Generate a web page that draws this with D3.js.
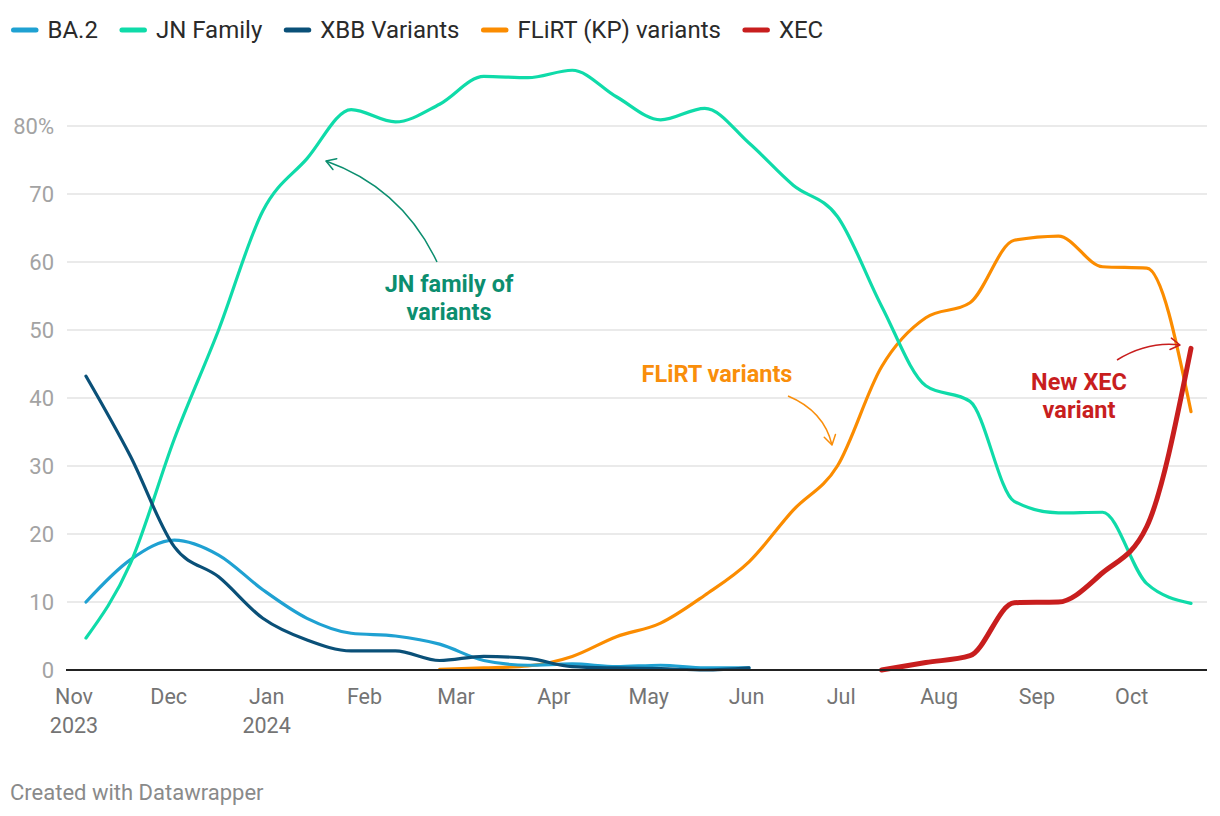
<!DOCTYPE html>
<html><head><meta charset="utf-8">
<script src="https://cdn.jsdelivr.net/npm/d3@7"></script>
<style>body{margin:0;background:#fff;} svg{display:block;font-family:Roboto, "Noto Sans", sans-serif;}</style>
</head><body><svg id="c" width="1220" height="816"></svg>
<script>
// ---- data (two-week periods ending on these dates) ----
const dates = ["2023-11-04","2023-11-18","2023-12-02","2023-12-16","2023-12-30","2024-01-13","2024-01-27",
  "2024-02-10","2024-02-24","2024-03-09","2024-03-23","2024-04-06","2024-04-20","2024-05-04","2024-05-18",
  "2024-06-01","2024-06-15","2024-06-29","2024-07-13","2024-07-27","2024-08-10","2024-08-24","2024-09-07",
  "2024-09-21","2024-10-05","2024-10-19"];
const seriesNames = ["BA.2","JN Family","XBB Variants","FLiRT (KP) variants","XEC"];
const ba2 = [10,16.2,19.1,16.9,11.8,7.6,5.4,5.0,3.8,1.4,0.7,0.9,0.5,0.7,0.3,0.3,
  null,null,null,null,null,null,null,null,null,null];
const jnFamily = [4.7,15.6,34,50,67.5,75.2,82.4,80.6,83.2,87.3,87.1,88.2,84.3,80.9,82.6,77.5,
  71.3,66.7,53.5,41.8,39.5,24.8,23.1,23.2,12.7,9.8];
const xbb = [43.2,31.5,18.1,13.7,7.6,4.4,2.8,2.8,1.4,2.0,1.7,0.5,0.3,0.2,0.0,0.3,
  null,null,null,null,null,null,null,null,null,null];
const flirt = [null,null,null,null,null,null,null,null,0.1,0.3,0.6,2.0,4.9,6.9,11,15.9,
  23.5,30,44.6,51.8,54,63.2,63.8,59.3,59.1,38];
const xec = [null,null,null,null,null,null,null,null,null,null,null,null,null,null,null,null,
  null,null,0,1.1,2.1,9.9,10.0,14.3,21.1,47.3];
const yTicks = [0,10,20,30,40,50,60,70,80];
const monthTicks = ["2023-11-01","2023-12-01","2024-01-01","2024-02-01","2024-03-01","2024-04-01",
  "2024-05-01","2024-06-01","2024-07-01","2024-08-01","2024-09-01","2024-10-01"];
const monthLabels = [["Nov","2023"],["Dec"],["Jan","2024"],["Feb"],["Mar"],["Apr"],["May"],["Jun"],
  ["Jul"],["Aug"],["Sep"],["Oct"]];

const colors = ["#1fa1d2","#0fdba9","#0a5078","#fb8c00","#c81e1e"];
const widths = [3.2,3.2,3.2,3.2,5];
const seriesValues = [ba2,jnFamily,xbb,flirt,xec];
const drawOrder = [3,0,1,2,4];

const parse = d3.utcParse("%Y-%m-%d");
const svg = d3.select("#c");

const x = d3.scaleUtc().domain([parse(dates[0]), parse(dates[dates.length-1])]).range([86, 1191]);
const y = d3.scaleLinear().domain([0, 80]).range([670, 126]);

// gridlines
svg.append("g").selectAll("line").data(yTicks.filter(d=>d>0)).join("line")
  .attr("x1", 67).attr("x2", 1207).attr("y1", d=>y(d)).attr("y2", d=>y(d))
  .attr("stroke", "#e3e3e3").attr("stroke-width", 1.6);

// y labels
svg.append("g").selectAll("text").data(yTicks).join("text")
  .attr("x", 54).attr("y", d=>y(d)).attr("dy", "0.35em").attr("text-anchor","end")
  .attr("font-size", 22).attr("fill", "#a3a3a3")
  .text(d => d===80 ? "80%" : d);

// x labels
const xl = svg.append("g").selectAll("text").data(monthTicks).join("text")
  .attr("text-anchor","middle").attr("font-size", 21.5).attr("fill", "#747474");
xl.each(function(d,i){
  const t = d3.select(this);
  monthLabels[i].forEach((s,k)=>{
    t.append("tspan").attr("x", x(parse(d)) - 2.5).attr("y", 704 + k*29).text(s);
  });
});

// lines
const line = d3.line().defined(d=>d.v!=null).x(d=>x(d.t)).y(d=>y(d.v)).curve(d3.curveMonotoneX);
drawOrder.forEach(i=>{
  const pts = dates.map((dt,j)=>({t:parse(dt), v:seriesValues[i][j]})).filter(d=>d.v!=null);
  svg.append("path").datum(pts).attr("d", line).attr("fill","none")
    .attr("stroke", colors[i]).attr("stroke-width", widths[i])
    .attr("stroke-linejoin","round").attr("stroke-linecap","round");
});

// baseline
svg.append("line").attr("x1",66).attr("x2",1207).attr("y1",y(0)).attr("y2",y(0))
  .attr("stroke","#222").attr("stroke-width",2);

// legend
let lx = 11;
seriesNames.forEach((n,i)=>{
  svg.append("line").attr("x1", lx+2.5).attr("x2", lx+25).attr("y1",30).attr("y2",30)
    .attr("stroke", colors[i]).attr("stroke-width", 5).attr("stroke-linecap","round");
  const t = svg.append("text").attr("x", lx+36.5).attr("y", 30).attr("dy","0.35em")
    .attr("font-size", 24).attr("fill","#2a2a2a").text(n);
  lx = lx + 36.5 + t.node().getComputedTextLength() + 21.5;
});

// annotations
function arrow(p0, c, p2, color, w){
  svg.append("path").attr("d", `M${p0[0]},${p0[1]} Q${c[0]},${c[1]} ${p2[0]},${p2[1]}`)
    .attr("fill","none").attr("stroke",color).attr("stroke-width",w);
  const ang = Math.atan2(p2[1]-c[1], p2[0]-c[0]);
  const L = 11, a = 0.55;
  const h = [ang+Math.PI-a, ang+Math.PI+a].map(t=>[p2[0]+L*Math.cos(t), p2[1]+L*Math.sin(t)]);
  svg.append("path").attr("d", `M${h[0][0]},${h[0][1]} L${p2[0]},${p2[1]} L${h[1][0]},${h[1][1]}`)
    .attr("fill","none").attr("stroke",color).attr("stroke-width",w).attr("stroke-linecap","round").attr("stroke-linejoin","round");
}
function label(lines, cx, y0, color){
  const t = svg.append("text").attr("text-anchor","middle").attr("font-size",23.5)
    .attr("font-weight","bold").attr("fill",color);
  lines.forEach((s,k)=>t.append("tspan").attr("x",cx).attr("y",y0+k*28).text(s));
}
label(["JN family of","variants"], 449, 292, "#0c8e6f");
arrow([437,262],[402,188],[326,161],"#0c8e6f",1.5);
label(["FLiRT variants"], 717, 382, "#f98e0b");
arrow([788,396],[824,411],[832,445],"#f98e0b",1.5);
label(["New XEC","variant"], 1079, 390, "#c81e1e");
arrow([1117,360],[1148,341],[1180,345],"#c81e1e",1.5);

// footer
svg.append("text").attr("x",10).attr("y",800).attr("font-size",22).attr("fill","#8a8a8a")
  .text("Created with Datawrapper");
</script></body></html>
